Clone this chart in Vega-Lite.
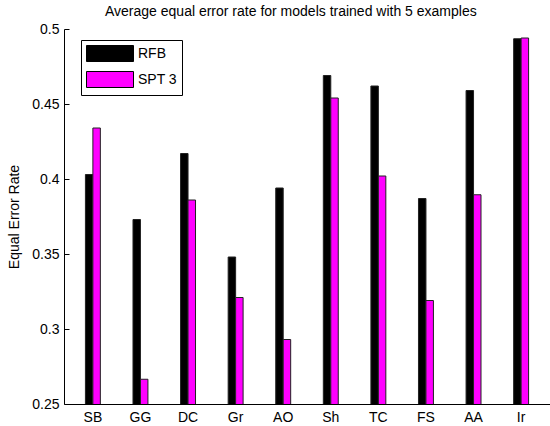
{
  "$schema": "https://vega.github.io/schema/vega-lite/v6.json",
  "width": 486,
  "height": 375,
  "autosize": {"type": "none"},
  "padding": {"left": 64, "top": 29, "right": 0, "bottom": 22},
  "background": "white",
  "config": {
    "view": {"stroke": null},
    "font": "Liberation Sans",
    "axis": {"labelColor": "black", "titleColor": "black", "domainColor": "black", "tickColor": "black", "labelFontSize": 14, "titleFontSize": 14, "titleFontWeight": "normal", "grid": false}
  },
  "title": {
    "text": "Average equal error rate for models trained with 5 examples",
    "fontSize": 14,
    "fontWeight": "normal",
    "color": "black",
    "anchor": "start",
    "frame": "group",
    "dx": 41,
    "offset": 3
  },
  "data": {
    "values": [
      {"model": "SB", "method": "RFB", "eer": 0.403},
      {"model": "SB", "method": "SPT 3", "eer": 0.434},
      {"model": "GG", "method": "RFB", "eer": 0.373},
      {"model": "GG", "method": "SPT 3", "eer": 0.2665},
      {"model": "DC", "method": "RFB", "eer": 0.417},
      {"model": "DC", "method": "SPT 3", "eer": 0.386},
      {"model": "Gr", "method": "RFB", "eer": 0.348},
      {"model": "Gr", "method": "SPT 3", "eer": 0.321},
      {"model": "AO", "method": "RFB", "eer": 0.394},
      {"model": "AO", "method": "SPT 3", "eer": 0.293},
      {"model": "Sh", "method": "RFB", "eer": 0.469},
      {"model": "Sh", "method": "SPT 3", "eer": 0.454},
      {"model": "TC", "method": "RFB", "eer": 0.462},
      {"model": "TC", "method": "SPT 3", "eer": 0.402},
      {"model": "FS", "method": "RFB", "eer": 0.387},
      {"model": "FS", "method": "SPT 3", "eer": 0.319},
      {"model": "AA", "method": "RFB", "eer": 0.459},
      {"model": "AA", "method": "SPT 3", "eer": 0.3895},
      {"model": "Ir", "method": "RFB", "eer": 0.4935},
      {"model": "Ir", "method": "SPT 3", "eer": 0.494}
    ]
  },
  "mark": {"type": "bar", "stroke": "#222222", "strokeWidth": 1, "clip": true},
  "encoding": {
    "x": {
      "field": "model",
      "type": "nominal",
      "sort": ["SB", "GG", "DC", "Gr", "AO", "Sh", "TC", "FS", "AA", "Ir"],
      "scale": {"paddingInner": 0.686, "paddingOuter": 0.45},
      "axis": {"title": null, "labelAngle": 0, "ticks": false, "labelPadding": 6}
    },
    "xOffset": {"field": "method", "sort": ["RFB", "SPT 3"]},
    "y": {
      "field": "eer",
      "type": "quantitative",
      "scale": {"domain": [0.25, 0.5], "zero": false, "nice": false},
      "axis": {
        "title": "Equal Error Rate",
        "values": [0.25, 0.3, 0.35, 0.4, 0.45, 0.5],
        "format": "~g",
        "tickSize": -5,
        "labelPadding": 10,
        "titlePadding": 10
      }
    },
    "color": {
      "field": "method",
      "type": "nominal",
      "scale": {"domain": ["RFB", "SPT 3"], "range": ["#000000", "#ff00ff"]},
      "legend": {
        "orient": "none",
        "legendX": 17,
        "legendY": 11,
        "title": null,
        "strokeColor": "black",
        "fillColor": "white",
        "padding": 5,
        "cornerRadius": 0,
        "symbolType": "M-1,-1H4.875V1H-1Z",
        "symbolSize": 256,
        "symbolStrokeColor": "black",
        "symbolStrokeWidth": 1,
        "symbolOpacity": 1,
        "labelFontSize": 14,
        "labelColor": "black",
        "labelOffset": 35,
        "rowPadding": 5,
        "labelExpr": "datum.label + '\u00a0\u00a0\u00a0'"
      }
    }
  }
}
